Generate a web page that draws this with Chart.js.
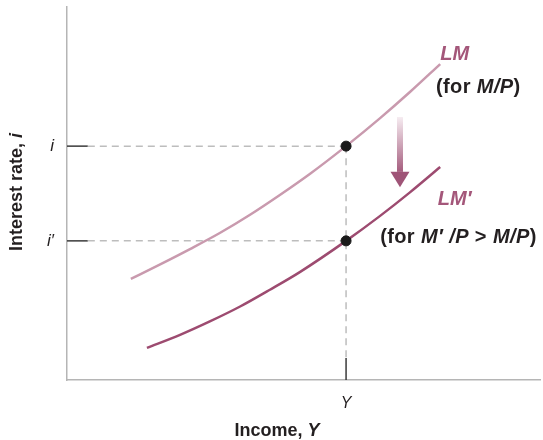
<!DOCTYPE html>
<html>
<head>
<meta charset="utf-8">
<script src="https://cdn.jsdelivr.net/npm/chart.js@4"></script>
<style>
  html, body { margin: 0; padding: 0; background: #fff; }
  #wrap { width: 543px; height: 440px; position: relative; }
</style>
</head>
<body>
<div id="wrap"><canvas id="grafico"></canvas></div>
<script>
// curva LM (para M/P)
const lmX = [1.35, 1.97, 2.60, 3.23, 3.87, 4.50, 5.14, 5.90, 6.62, 7.25, 7.89];
const lmY = [2.71, 3.10, 3.51, 3.94, 4.43, 4.96, 5.53, 6.27, 7.02, 7.72, 8.47];
// curva LM' (para M'/P > M/P)
const lm2X = [1.69, 2.39, 3.02, 3.66, 4.29, 4.93, 5.90, 6.62, 7.25, 7.89];
const lm2Y = [0.86, 1.21, 1.57, 1.97, 2.42, 2.90, 3.73, 4.40, 5.03, 5.71];
// equilíbrio: renda Y e juros i, i'
const rendaY = 5.90;
const juros = [6.27, 3.73];
const rotulosY = ['i', 'i\u2032'];
const rotulosX = ['Y'];

const corLM = '#c99aae';
const corLM2 = '#9d4b70';
const corTexto = '#231f20';
const corGuia = '#bdbdbd';
const fonte = '"Liberation Sans", Arial, sans-serif';

const pontos = (xs, ys) => xs.map((x, i) => ({ x, y: ys[i] }));

// texto com partes em itálico (tudo em negrito)
function textoMisto(ctx, partes, x, y, tam, cor, alinhar, espaco = 0) {
  const f = it => `${it ? 'italic ' : ''}bold ${tam}px ${fonte}`;
  ctx.letterSpacing = espaco + 'px';
  let total = 0;
  partes.forEach(([t, it]) => { ctx.font = f(it); total += ctx.measureText(t).width; });
  let cx = alinhar === 'center' ? x - total / 2 : x;
  ctx.fillStyle = cor;
  ctx.textBaseline = 'middle';
  ctx.textAlign = 'left';
  partes.forEach(([t, it]) => {
    ctx.font = f(it);
    ctx.fillText(t, cx, y);
    cx += ctx.measureText(t).width;
  });
  ctx.letterSpacing = '0px';
}

const anotacoes = {
  id: 'anotacoes',
  afterDatasetsDraw(chart) {
    const { ctx, scales: { x, y } } = chart;
    ctx.save();

    // seta de deslocamento
    const ax = x.getPixelForValue(7.04);
    const yTopo = y.getPixelForValue(7.05), yBase = y.getPixelForValue(5.58), yPonta = y.getPixelForValue(5.17);
    const grad = ctx.createLinearGradient(0, yTopo, 0, yBase);
    grad.addColorStop(0, '#f6ecf1');
    grad.addColorStop(1, '#a55d7e');
    ctx.fillStyle = grad;
    ctx.fillRect(ax - 3, yTopo, 6, yBase - yTopo);
    ctx.fillStyle = '#9f5477';
    ctx.beginPath();
    ctx.moveTo(ax - 9.5, yBase);
    ctx.lineTo(ax + 9.5, yBase);
    ctx.lineTo(ax, yPonta);
    ctx.closePath();
    ctx.fill();

    // rótulos das curvas
    textoMisto(ctx, [['LM', true]], x.getPixelForValue(7.89), y.getPixelForValue(8.74), 20, '#a4577a');
    textoMisto(ctx, [['(for ', false], ['M/P', true], [')', false]], x.getPixelForValue(7.80), y.getPixelForValue(7.83), 20, corTexto, 'left', 0.4);
    textoMisto(ctx, [['LM\u2032', true]], x.getPixelForValue(7.84), y.getPixelForValue(4.85), 20, '#a4577a');
    textoMisto(ctx, [['(for ', false], ['M\u2032 /P', true], [' > ', false], ['M/P', true], [')', false]], x.getPixelForValue(6.62), y.getPixelForValue(3.83), 20, corTexto, 'left', 0.4);

    // títulos dos eixos
    textoMisto(ctx, [['Income, ', false], ['Y', true]], 277, 431, 18, corTexto, 'center');
    ctx.translate(17, 192);
    ctx.rotate(-Math.PI / 2);
    textoMisto(ctx, [['Interest rate, ', false], ['i', true]], 0, 0, 18, corTexto, 'center');
    ctx.restore();
  }
};

const tickY = 0.44, tickX = 0.59;
const guia = (dados, cor, tracejado) => ({
  data: dados, borderColor: cor, borderWidth: 1.5, borderDash: tracejado ? [7, 5] : [],
  pointRadius: 0, fill: false
});
const semPadding = s => { s.paddingTop = 0; s.paddingBottom = 0; s.paddingLeft = 0; s.paddingRight = 0; };

new Chart(document.getElementById('grafico'), {
  type: 'line',
  data: {
    datasets: [
      { data: [{ x: rendaY, y: juros[0] }, { x: rendaY, y: juros[1] }], showLine: false,
        pointRadius: 5, pointBackgroundColor: '#1a1a1a', pointBorderColor: '#1a1a1a', borderColor: '#1a1a1a' },
      { data: pontos(lmX, lmY), borderColor: corLM, borderWidth: 2.5, pointRadius: 0, cubicInterpolationMode: 'monotone' },
      { data: pontos(lm2X, lm2Y), borderColor: corLM2, borderWidth: 2.5, pointRadius: 0, cubicInterpolationMode: 'monotone' },
      guia([{ x: tickY, y: juros[0] }, { x: rendaY, y: juros[0] }], corGuia, true),
      guia([{ x: tickY, y: juros[1] }, { x: rendaY, y: juros[1] }], corGuia, true),
      guia([{ x: rendaY, y: juros[0] }, { x: rendaY, y: tickX }], corGuia, true),
      guia([{ x: 0, y: juros[0] }, { x: tickY, y: juros[0] }], '#3a3a3a', false),
      guia([{ x: 0, y: juros[1] }, { x: tickY, y: juros[1] }], '#3a3a3a', false),
      guia([{ x: rendaY, y: 0 }, { x: rendaY, y: tickX }], '#3a3a3a', false)
    ]
  },
  options: {
    responsive: true,
    maintainAspectRatio: false,
    animation: false,
    layout: { autoPadding: false, padding: { top: 7, right: 3, left: 0, bottom: 0 } },
    plugins: { legend: { display: false }, tooltip: { enabled: false } },
    scales: {
      x: {
        type: 'linear', min: 0, max: 10,
        grid: { display: false, drawTicks: false },
        border: { display: true, color: '#b5b5b5', width: 1.5 },
        afterBuildTicks: s => { s.ticks = [{ value: rendaY }]; },
        afterFit: s => { s.height = 60; semPadding(s); },
        ticks: {
          padding: 14, color: corTexto, maxRotation: 0, autoSkip: false,
          font: { family: fonte, size: 16, style: 'italic' },
          callback: (v, i) => rotulosX[i]
        }
      },
      y: {
        type: 'linear', min: 0, max: 10,
        grid: { display: false, drawTicks: false },
        border: { display: true, color: '#b5b5b5', width: 1.5 },
        afterBuildTicks: s => { s.ticks = juros.map(v => ({ value: v })); },
        afterFit: s => { s.width = 67; semPadding(s); },
        ticks: {
          padding: 13, color: corTexto, autoSkip: false,
          font: { family: fonte, size: 17, style: 'italic' },
          callback: (v, i) => rotulosY[i]
        }
      }
    }
  },
  plugins: [anotacoes]
});
</script>
</body>
</html>
